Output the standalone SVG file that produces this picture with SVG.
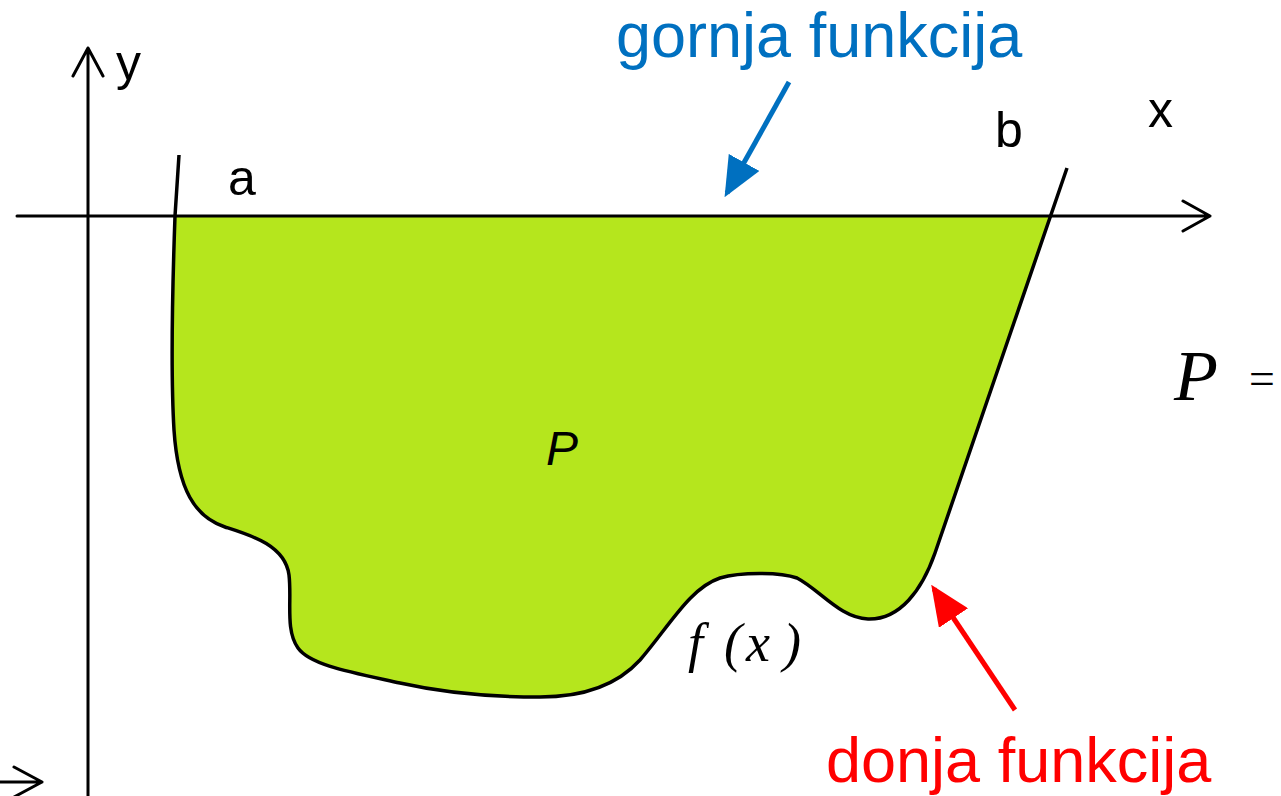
<svg xmlns="http://www.w3.org/2000/svg" width="1281" height="796" viewBox="0 0 1281 796">
<style>
.ax{stroke:#000;stroke-width:3;fill:none;stroke-linecap:round;stroke-linejoin:round}
.lbl{font-family:"Liberation Sans",Arial,sans-serif;font-size:50px;fill:#000}
.big{font-family:"Liberation Sans",Arial,sans-serif;font-size:63px}
.math{font-family:"Liberation Serif","Times New Roman",serif;font-style:italic;fill:#000}
</style>
<defs>
<marker id="ahB" markerWidth="8" markerHeight="7" refX="7" refY="3.5" orient="auto" markerUnits="strokeWidth"><path d="M0,0 L8,3.5 L0,7 Z" fill="#0070C0"/></marker>
<marker id="ahR" markerWidth="8" markerHeight="7" refX="7" refY="3.5" orient="auto" markerUnits="strokeWidth"><path d="M0,0 L8,3.5 L0,7 Z" fill="#FF0000"/></marker>
</defs>
<rect width="1281" height="796" fill="#fff"/>
<g id="region">
<path d="M175,216 L1050,216 L935,553 C922,590 900,620 868,619 C840,618 820,590 797,578 C780,572 740,572 720,578 C690,588 670,625 640,660 C620,682 590,697 540,697 C490,697 440,692 400,683 C350,672 310,665 298,648 C285,630 292,600 289,575 C285,545 250,535 225,527 C195,517 178,490 174,430 C171,380 172,300 175,216 Z" fill="#B5E61D"/>
<path d="M179,155 L175,216 C172,300 171,380 174,430 C178,490 195,517 225,527 C250,535 285,545 289,575 C292,600 285,630 298,648 C310,665 350,672 400,683 C440,692 490,697 540,697 C590,697 620,682 640,660 C670,625 690,588 720,578 C740,572 780,572 797,578 C820,590 840,618 868,619 C900,620 922,590 935,553 L1067,168" fill="none" stroke="#000" stroke-width="3.5" stroke-linejoin="round"/>
</g>
<g id="axes">
<path class="ax" d="M17,216 L1210,216 M1183,201 L1210,216 L1183,231"/>
<path class="ax" d="M88,796 L88,48 M73,76 L88,48 L103,76"/>
<path class="ax" d="M0,782 L42,782 M14,767 L42,782 L14,797"/>
</g>
<g id="labels">
<text class="lbl" x="116" y="80">y</text>
<text class="lbl" x="1148" y="127">x</text>
<text class="lbl" x="228" y="195">a</text>
<text class="lbl" x="995" y="147">b</text>
<text x="546" y="465" font-family="'Liberation Sans',Arial,sans-serif" font-style="italic" font-size="48" fill="#000">P</text>
<text class="math" font-size="54" y="661"><tspan x="688">f</tspan><tspan x="724">(</tspan><tspan x="746">x</tspan><tspan x="783">)</tspan></text>
<text class="math" font-size="72" x="1174" y="400">P</text>
<text class="math" font-size="46" font-style="normal" x="1246" y="394">=</text>
</g>
<g id="connectors">
<line x1="789" y1="82" x2="727" y2="193" stroke="#0070C0" stroke-width="5" marker-end="url(#ahB)"/>
<line x1="1015" y1="710" x2="934" y2="589" stroke="#FF0000" stroke-width="5" marker-end="url(#ahR)"/>
</g>
<g id="callouts">
<text class="big" x="616" y="57" fill="#0070C0">gornja funkcija</text>
<text class="big" x="826" y="782" fill="#FF0000">donja funkcija</text>
</g>
</svg>
